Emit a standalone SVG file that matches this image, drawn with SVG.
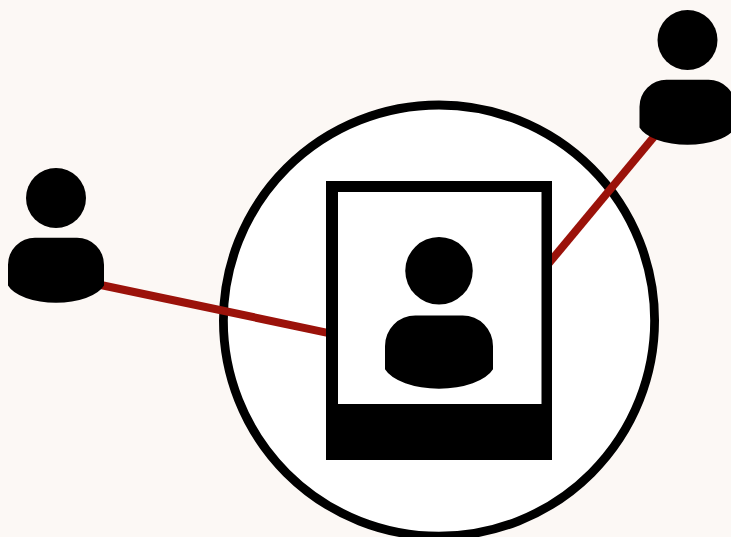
<svg xmlns="http://www.w3.org/2000/svg" width="731" height="537" viewBox="0 0 731 537">
<defs>
<style>.k{fill:#000}.link{stroke:#9b120a;stroke-width:8;fill:none}</style>
<g id="person"><circle cx="48" cy="30" r="30" class="k"/><path class="k" d="M0 117.500V97A27 27 0 0 1 27 69.700H69A27 27 0 0 1 96 97V117.500A50 24 0 0 1 0 117.500Z"/></g>
</defs>
<rect id="background" width="731" height="537" fill="#fcf8f5"/>
<g id="boundary"><circle cx="439" cy="320.600" r="215.600" fill="#fff" stroke="#000" stroke-width="8.800"/></g>
<g id="connectors"><line class="link" x1="96" y1="284" x2="330" y2="333.300"/><line class="link" x1="548" y1="264.300" x2="660" y2="129.500"/></g>
<g id="document"><path class="k" fill-rule="evenodd" d="M326 181H552V460H326ZM338 192V404H541.500V192Z"/></g>
<g id="person-center"><use href="#person" transform="translate(385 237) scale(1.125)"/></g>
<g id="person-left"><use href="#person" x="8" y="168"/></g>
<g id="person-right"><use href="#person" x="639.500" y="10"/></g>
</svg>
